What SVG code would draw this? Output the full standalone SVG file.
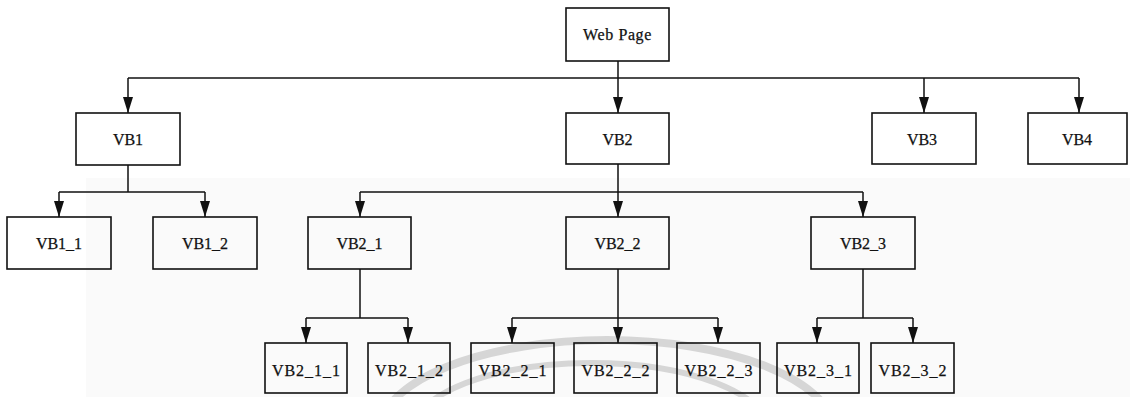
<svg xmlns="http://www.w3.org/2000/svg" width="1130" height="397" viewBox="0 0 1130 397">
  <style>
    .box { fill: none; stroke: #111; stroke-width: 1.6; }
    .lbl { font-family: "Liberation Serif", "Times New Roman", serif; font-size: 16px; fill: #111; stroke: #111; stroke-width: 0.25; text-anchor: middle; }
    .sm { letter-spacing: 1px; }
    .wire { fill: none; stroke: #111; stroke-width: 1.5; }
    .arr { marker-end: url(#head); }
    .wm { fill: none; stroke: #d6d6d6; }
  </style>
  <defs>
    <marker id="head" viewBox="0 0 16 10" refX="16" refY="5" markerWidth="16" markerHeight="10" markerUnits="userSpaceOnUse" orient="auto">
      <path d="M0,0 L16,5 L0,10 z" fill="#111"/>
    </marker>
  </defs>

  <rect width="1130" height="397" fill="#ffffff"/>
  <!-- page tint and faint background arcs -->
  <rect x="86" y="178" width="1044" height="219" fill="#fafafa"/>
  <g id="backdrop">
    <ellipse class="wm" cx="607" cy="432" rx="227" ry="92" stroke-width="8"/>
    <ellipse class="wm" cx="591" cy="432" rx="178" ry="69" stroke-width="6"/>
  </g>

  <g id="connectors">
    <!-- root to first level -->
    <path class="wire" d="M618,61 V78"/>
    <path class="wire" d="M128,78 H1079"/>
    <path class="wire arr" d="M128,78 V113"/>
    <path class="wire arr" d="M618,78 V113"/>
    <path class="wire arr" d="M924,78 V113"/>
    <path class="wire arr" d="M1079,78 V113"/>
    <!-- VB1 children -->
    <path class="wire" d="M128,165 V192 M59,192 H205"/>
    <path class="wire arr" d="M59,192 V217"/>
    <path class="wire arr" d="M205,192 V217"/>
    <!-- VB2 children -->
    <path class="wire" d="M618,164 V192 M360,192 H863"/>
    <path class="wire arr" d="M360,192 V217"/>
    <path class="wire arr" d="M618,192 V217"/>
    <path class="wire arr" d="M863,192 V217"/>
    <!-- VB2_1 children -->
    <path class="wire" d="M360,269 V318 M306,318 H408"/>
    <path class="wire arr" d="M306,318 V343"/>
    <path class="wire arr" d="M408,318 V343"/>
    <!-- VB2_2 children -->
    <path class="wire" d="M618,269 V318 M512,318 H718"/>
    <path class="wire arr" d="M512,318 V343"/>
    <path class="wire arr" d="M618,318 V343"/>
    <path class="wire arr" d="M718,318 V343"/>
    <!-- VB2_3 children -->
    <path class="wire" d="M863,269 V318 M817,318 H913"/>
    <path class="wire arr" d="M817,318 V343"/>
    <path class="wire arr" d="M913,318 V343"/>
  </g>

  <g id="webpage"><rect class="box" x="566" y="8" width="103" height="53"/><text class="lbl" x="617.5" y="40" letter-spacing="0.6">Web Page</text></g>

  <g id="vb1"><rect class="box" x="76" y="113" width="104" height="52"/><text class="lbl" x="128" y="145">VB1</text></g>
  <g id="vb2"><rect class="box" x="566" y="113" width="103" height="51"/><text class="lbl" x="617.5" y="145">VB2</text></g>
  <g id="vb3"><rect class="box" x="872" y="113" width="104" height="51"/><text class="lbl" x="922" y="145">VB3</text></g>
  <g id="vb4"><rect class="box" x="1028" y="113" width="99" height="51"/><text class="lbl" x="1077" y="145">VB4</text></g>

  <g id="vb1_1"><rect class="box" x="7" y="217" width="104" height="52"/><text class="lbl" x="59" y="249">VB1_1</text></g>
  <g id="vb1_2"><rect class="box" x="153" y="217" width="104" height="52"/><text class="lbl" x="205" y="249">VB1_2</text></g>
  <g id="vb2_1"><rect class="box" x="308" y="217" width="103" height="52"/><text class="lbl" x="359.5" y="249">VB2_1</text></g>
  <g id="vb2_2"><rect class="box" x="566" y="217" width="103" height="52"/><text class="lbl" x="617.5" y="249">VB2_2</text></g>
  <g id="vb2_3"><rect class="box" x="811" y="217" width="104" height="52"/><text class="lbl" x="863" y="249">VB2_3</text></g>

  <g id="vb2_1_1"><rect class="box" x="265" y="343" width="82" height="50"/><text class="lbl sm" x="306.5" y="376">VB2_1_1</text></g>
  <g id="vb2_1_2"><rect class="box" x="368" y="343" width="82" height="50"/><text class="lbl sm" x="409.5" y="376">VB2_1_2</text></g>
  <g id="vb2_2_1"><rect class="box" x="471" y="343" width="83" height="50"/><text class="lbl sm" x="513" y="376">VB2_2_1</text></g>
  <g id="vb2_2_2"><rect class="box" x="574" y="343" width="83" height="50"/><text class="lbl sm" x="616" y="376">VB2_2_2</text></g>
  <g id="vb2_2_3"><rect class="box" x="677" y="343" width="83" height="50"/><text class="lbl sm" x="719" y="376">VB2_2_3</text></g>
  <g id="vb2_3_1"><rect class="box" x="777" y="343" width="82" height="50"/><text class="lbl sm" x="818.5" y="376">VB2_3_1</text></g>
  <g id="vb2_3_2"><rect class="box" x="871" y="343" width="83" height="50"/><text class="lbl sm" x="913" y="376">VB2_3_2</text></g>
</svg>
